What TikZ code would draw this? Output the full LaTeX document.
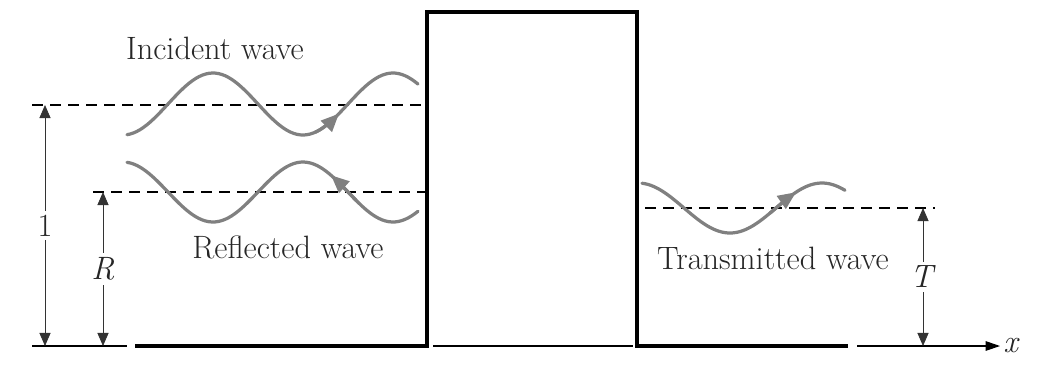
\documentclass[tikz,border=0pt]{standalone}
\usetikzlibrary{arrows.meta}

\begin{document}
\begin{tikzpicture}[
    x=0.025cm, y=-0.025cm,
    wall/.style={line width=3pt},
    axisline/.style={line width=0.8pt},
    guide/.style={dashed, dash pattern=on 0.28cm off 0.17cm, line width=0.8pt},
    wave/.style={line width=2.3pt, color=black!50, line cap=round},
    wavetip/.style={line width=2.3pt, color=black!50, -{Triangle[length=0.45cm, width=0.38cm]}},
    wavebacktip/.style={line width=2.3pt, color=black!50, {Triangle[length=0.45cm, width=0.38cm]}-},
    dim/.style={{Triangle[length=0.33cm, width=0.28cm]}-{Triangle[length=0.33cm, width=0.28cm]}, line width=0.6pt, color=black!80},
    lbl/.style={font=\fontsize{23}{27}\selectfont, text=black!85},
]
\useasboundingbox (0,0) rectangle (1037,377);

% Axis and barrier
\coordinate (o) at (32,346);
\coordinate (wl) at (427,346);
\coordinate (wr) at (637,346);
\draw[axisline] (o) -- (127,346);
\draw[axisline] (433,346) -- (633,346);
\draw[axisline, -{Triangle[length=0.36cm, width=0.24cm]}] (857,346) -- (1000,346) node[right, lbl, inner sep=2pt] (xlab) {\textit{x}};
\draw[wall] (135,346) -- (wl) -- (427,12) -- (637,12) -- (wr) -- (848,346);

% Dashed levels
\draw[guide] (32,105) -- (427,105);
\draw[guide] (93,192) -- (427,192);
\draw[guide] (645,208) -- (935,208);

% Waves
\draw[wave] plot[domain=127:418, samples=90] (\x, {104+31*cos(2*(\x-303))});
\draw[wavetip] plot[domain=315:339, samples=8] (\x, {104+31*cos(2*(\x-303))});
\draw[wave] plot[domain=127:418, samples=90] (\x, {192-30*cos(2*(\x-303))});
\draw[wavebacktip] plot[domain=331:356, samples=8] (\x, {192-30*cos(2*(\x-303))});
\draw[wave] plot[domain=642:845, samples=70] (\x, {208-25*cos(1.9565*(\x-822))});
\draw[wavetip] plot[domain=770:796, samples=8] (\x, {208-25*cos(1.9565*(\x-822))});

% Labels
\node[lbl] (incident) at (215,48) {Incident wave};
\node[lbl] (reflected) at (288,247) {Reflected wave};
\node[lbl] (transmitted) at (773,258) {Transmitted wave};

% Amplitudes
\draw[dim] (45,105) -- node[fill=white, lbl, inner sep=3pt] (one) {1} (45,346);
\draw[dim] (103,192) -- node[fill=white, lbl, inner sep=3pt] (rlab) {\textit{R}} (103,346);
\draw[dim] (923,208) -- node[fill=white, lbl, inner sep=3pt] (tlab) {\textit{T}} (923,346);

\end{tikzpicture}
\end{document}
